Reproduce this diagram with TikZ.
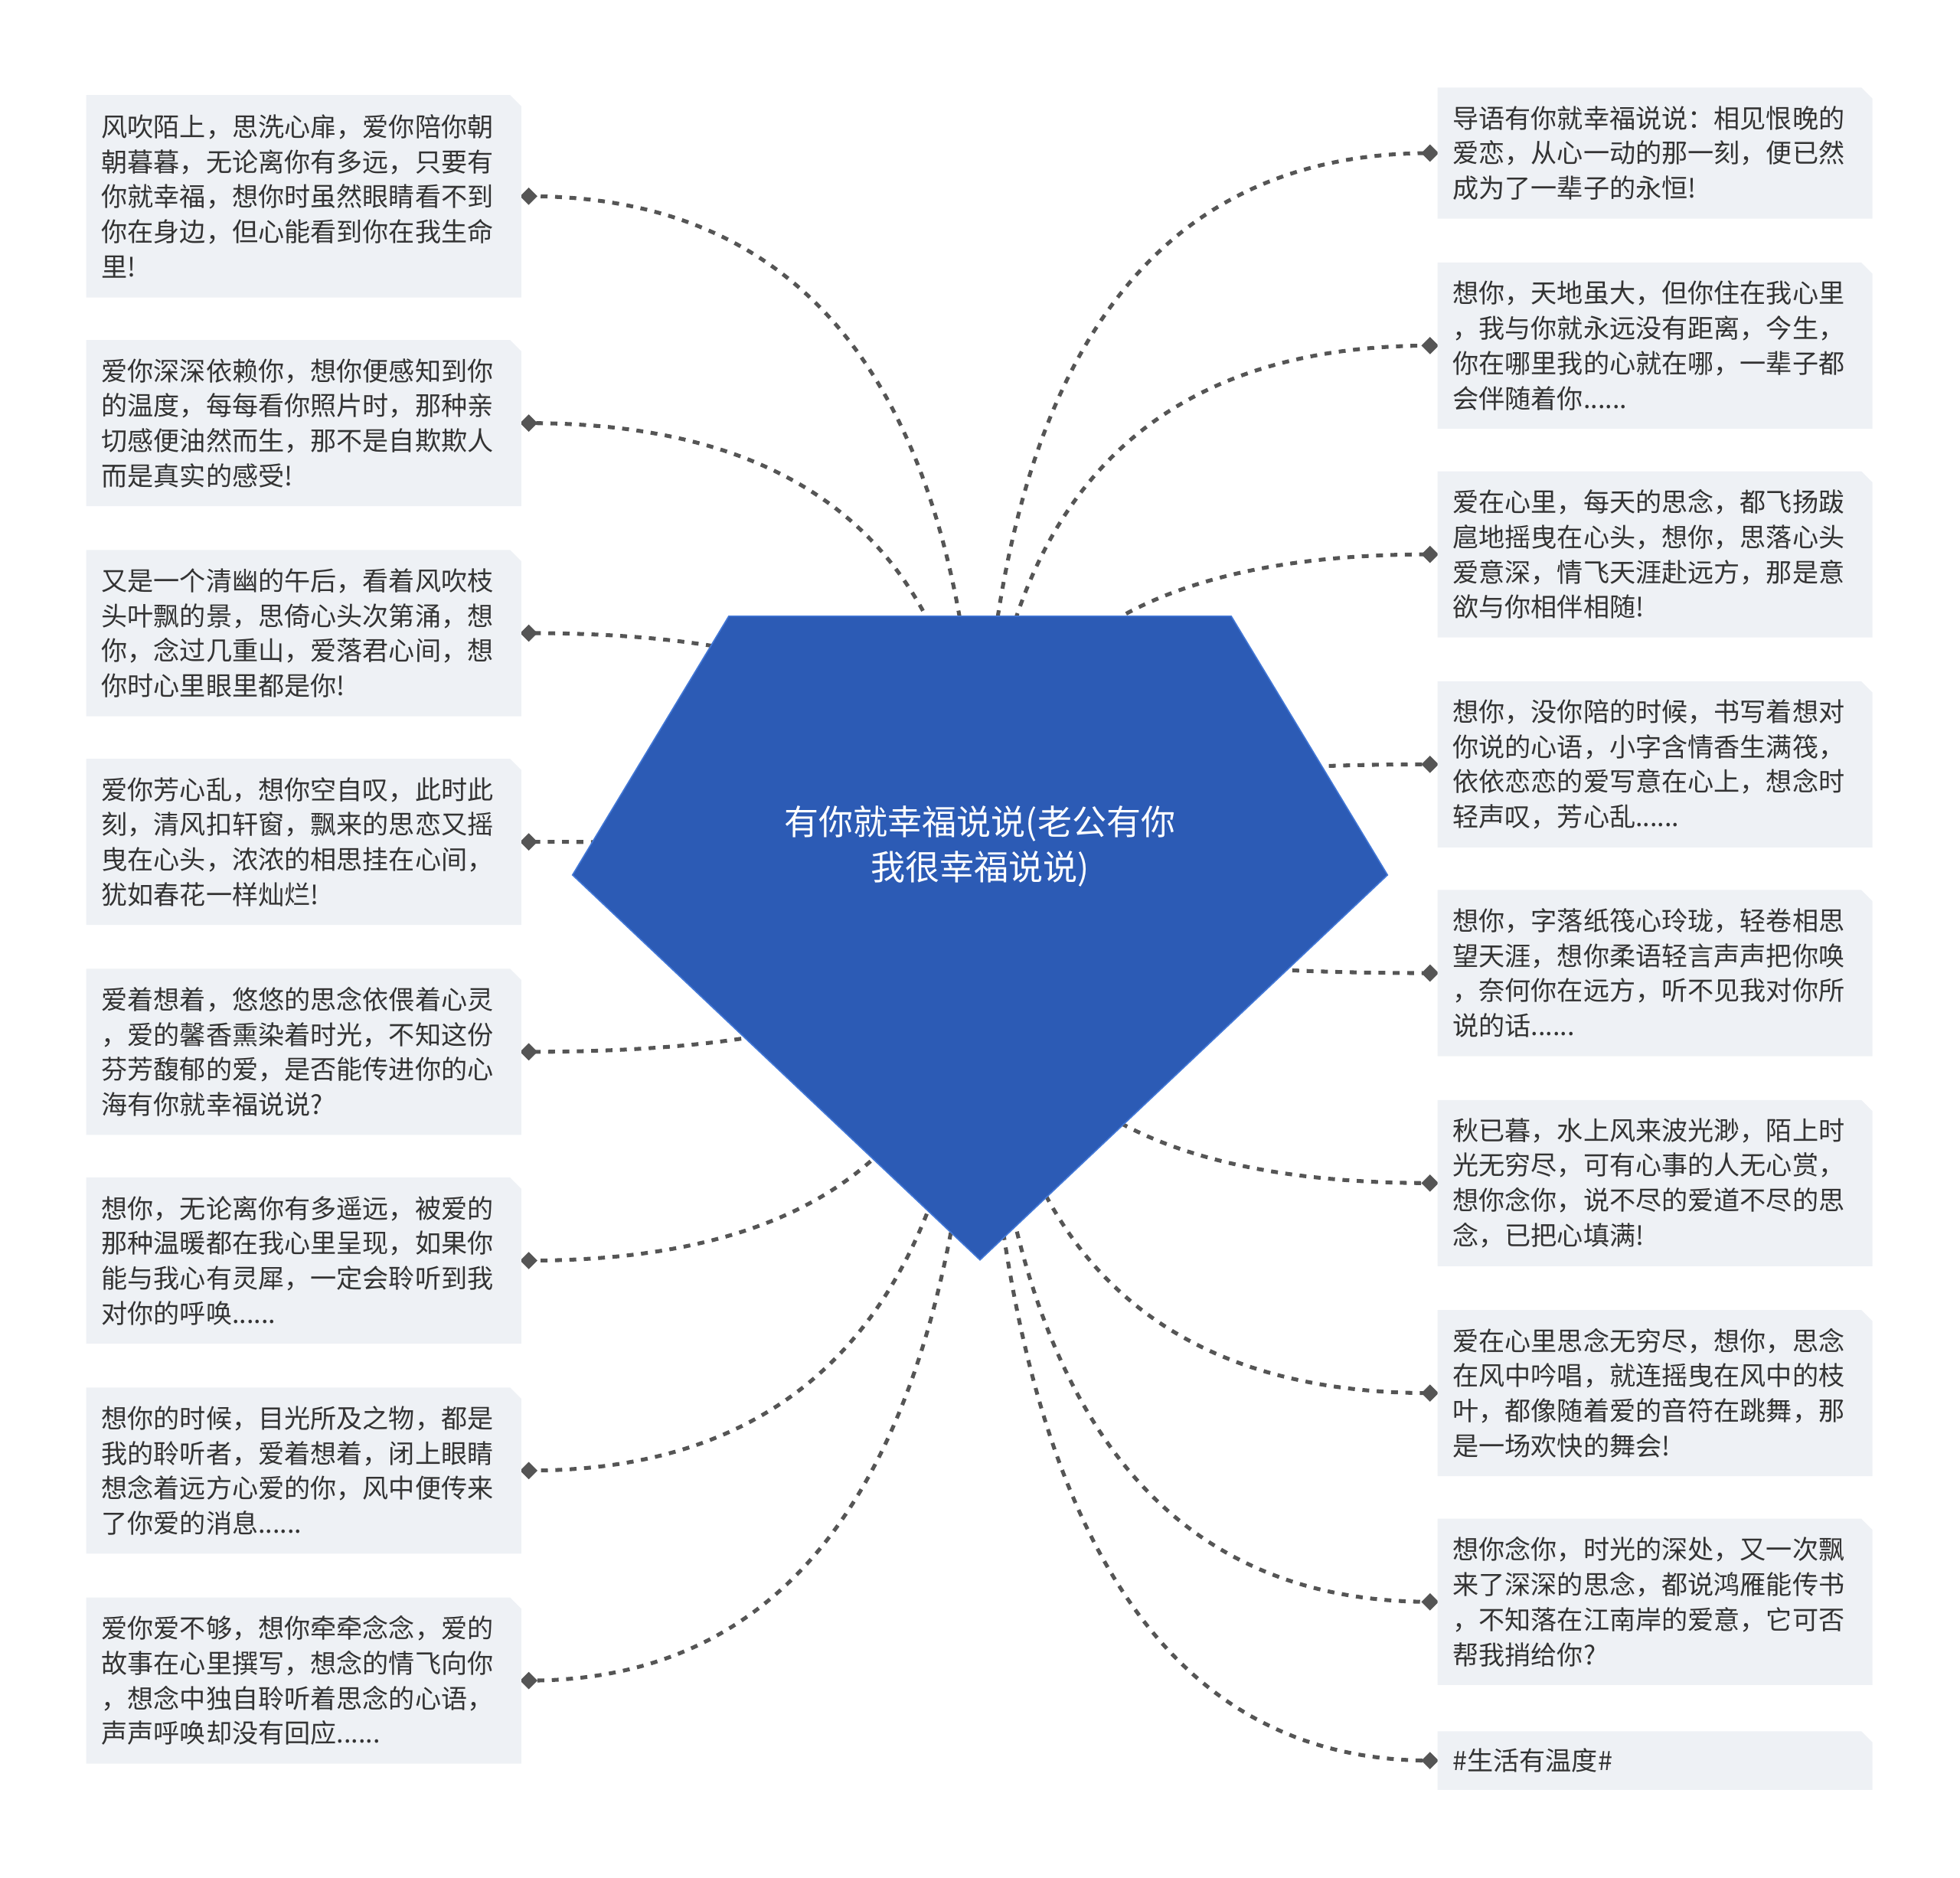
\documentclass[tikz,border=0pt]{standalone}
\usepackage{fontspec}
\setmainfont{Noto Sans CJK SC}
\usetikzlibrary{shapes.geometric,calc}
\definecolor{leaffill}{HTML}{EEF1F5}
\definecolor{leafink}{HTML}{333333}
\definecolor{linegray}{HTML}{555555}
\definecolor{hubblue}{HTML}{2C5BB5}
\definecolor{hubedge}{HTML}{4277D6}
\tikzset{
  leafbg/.style={fill=leaffill},
  leaftxt/.style={anchor=west, inner sep=0pt, align=left, text=leafink, font=\fontsize{20.9}{28}\selectfont},
  dia/.style={diamond, fill=linegray, inner sep=0pt, minimum size=14pt},
  conn/.style={draw=linegray, line width=3.1pt, dash pattern=on 5.5pt off 6pt},
  hubtxt/.style={align=center, text=white, font=\fontsize{27.6}{36}\selectfont, inner sep=0pt}
}
% name, xleft, ytop, ybottom, text
\newcommand\leafbox[5]{%
  \fill[leafbg] (#2,#3) -- ({#2+339},#3) -- ({#2+348},{#3+9}) -- ({#2+348},#4) -- (#2,#4) -- cycle;
  \node[leaftxt] (#1) at ({#2+12},{(#3+#4)/2}) {#5};
}
\newcommand\hubconn[1]{%
  \draw[conn] (hc) .. controls ($(hc)!2/3!(hc|-#1)$) and ($(#1)!2/3!(hc|-#1)$) .. (#1.center);
}
\begin{document}
\begin{tikzpicture}[x=1pt,y=-1pt]
\useasboundingbox (0,0) rectangle (1568,1502);
\coordinate (hc) at (784,700);
% connectors first, then diamonds on top
\foreach \n/\x/\y in {L1d/423/157,L2d/423/338.5,L3d/423/506.5,L4d/423/673.5,L5d/423/841.5,L6d/423/1008.5,L7d/423/1176.5,L8d/423/1344.5,R1d/1144/122.5,R2d/1144/276.5,R3d/1144/443.5,R4d/1144/611.5,R5d/1144/778.5,R6d/1144/946.5,R7d/1144/1114.5,R8d/1144/1281.5,R9d/1144/1408.5}{\coordinate (\n) at (\x,\y);}
\foreach \t in {L1d,L2d,L3d,L4d,L5d,L6d,L7d,L8d,R1d,R2d,R3d,R4d,R5d,R6d,R7d,R8d,R9d}{\hubconn{\t}}
\foreach \t in {L1d,L2d,L3d,L4d,L5d,L6d,L7d,L8d,R1d,R2d,R3d,R4d,R5d,R6d,R7d,R8d,R9d}{\node[dia] at (\t) {};}
% hub
\filldraw[fill=hubblue, draw=hubedge, line width=1pt] (583,493) -- (985,493) -- (1110,700) -- (784,1008) -- (458,700) -- cycle;
\node[hubtxt] (hub) at (784,677) {有你就幸福说说(老公有你\\我很幸福说说)};
% left boxes
\leafbox{L1}{69}{76}{238}{风吹陌上，思洗心扉，爱你陪你朝\\朝暮暮，无论离你有多远，只要有\\你就幸福，想你时虽然眼睛看不到\\你在身边，但心能看到你在我生命\\里!}
\leafbox{L2}{69}{272}{405}{爱你深深依赖你，想你便感知到你\\的温度，每每看你照片时，那种亲\\切感便油然而生，那不是自欺欺人\\而是真实的感受!}
\leafbox{L3}{69}{440}{573}{又是一个清幽的午后，看着风吹枝\\头叶飘的景，思倚心头次第涌，想\\你，念过几重山，爱落君心间，想\\你时心里眼里都是你!}
\leafbox{L4}{69}{607}{740}{爱你芳心乱，想你空自叹，此时此\\刻，清风扣轩窗，飘来的思恋又摇\\曳在心头，浓浓的相思挂在心间，\\犹如春花一样灿烂!}
\leafbox{L5}{69}{775}{908}{爱着想着，悠悠的思念依偎着心灵\\，爱的馨香熏染着时光，不知这份\\芬芳馥郁的爱，是否能传进你的心\\海有你就幸福说说?}
\leafbox{L6}{69}{942}{1075}{想你，无论离你有多遥远，被爱的\\那种温暖都在我心里呈现，如果你\\能与我心有灵犀，一定会聆听到我\\对你的呼唤......}
\leafbox{L7}{69}{1110}{1243}{想你的时候，目光所及之物，都是\\我的聆听者，爱着想着，闭上眼睛\\想念着远方心爱的你，风中便传来\\了你爱的消息......}
\leafbox{L8}{69}{1278}{1411}{爱你爱不够，想你牵牵念念，爱的\\故事在心里撰写，想念的情飞向你\\，想念中独自聆听着思念的心语，\\声声呼唤却没有回应......}
% right boxes
\leafbox{R1}{1150}{70}{175}{导语有你就幸福说说：相见恨晚的\\爱恋，从心一动的那一刻，便已然\\成为了一辈子的永恒!}
\leafbox{R2}{1150}{210}{343}{想你，天地虽大，但你住在我心里\\，我与你就永远没有距离，今生，\\你在哪里我的心就在哪，一辈子都\\会伴随着你......}
\leafbox{R3}{1150}{377}{510}{爱在心里，每天的思念，都飞扬跋\\扈地摇曳在心头，想你，思落心头\\爱意深，情飞天涯赴远方，那是意\\欲与你相伴相随!}
\leafbox{R4}{1150}{545}{678}{想你，没你陪的时候，书写着想对\\你说的心语，小字含情香生满筏，\\依依恋恋的爱写意在心上，想念时\\轻声叹，芳心乱......}
\leafbox{R5}{1150}{712}{845}{想你，字落纸筏心玲珑，轻卷相思\\望天涯，想你柔语轻言声声把你唤\\，奈何你在远方，听不见我对你所\\说的话......}
\leafbox{R6}{1150}{880}{1013}{秋已暮，水上风来波光渺，陌上时\\光无穷尽，可有心事的人无心赏，\\想你念你，说不尽的爱道不尽的思\\念，已把心填满!}
\leafbox{R7}{1150}{1048}{1181}{爱在心里思念无穷尽，想你，思念\\在风中吟唱，就连摇曳在风中的枝\\叶，都像随着爱的音符在跳舞，那\\是一场欢快的舞会!}
\leafbox{R8}{1150}{1215}{1348}{想你念你，时光的深处，又一次飘\\来了深深的思念，都说鸿雁能传书\\，不知落在江南岸的爱意，它可否\\帮我捎给你?}
\leafbox{R9}{1150}{1385}{1432}{\#生活有温度\#}
\end{tikzpicture}
\end{document}
